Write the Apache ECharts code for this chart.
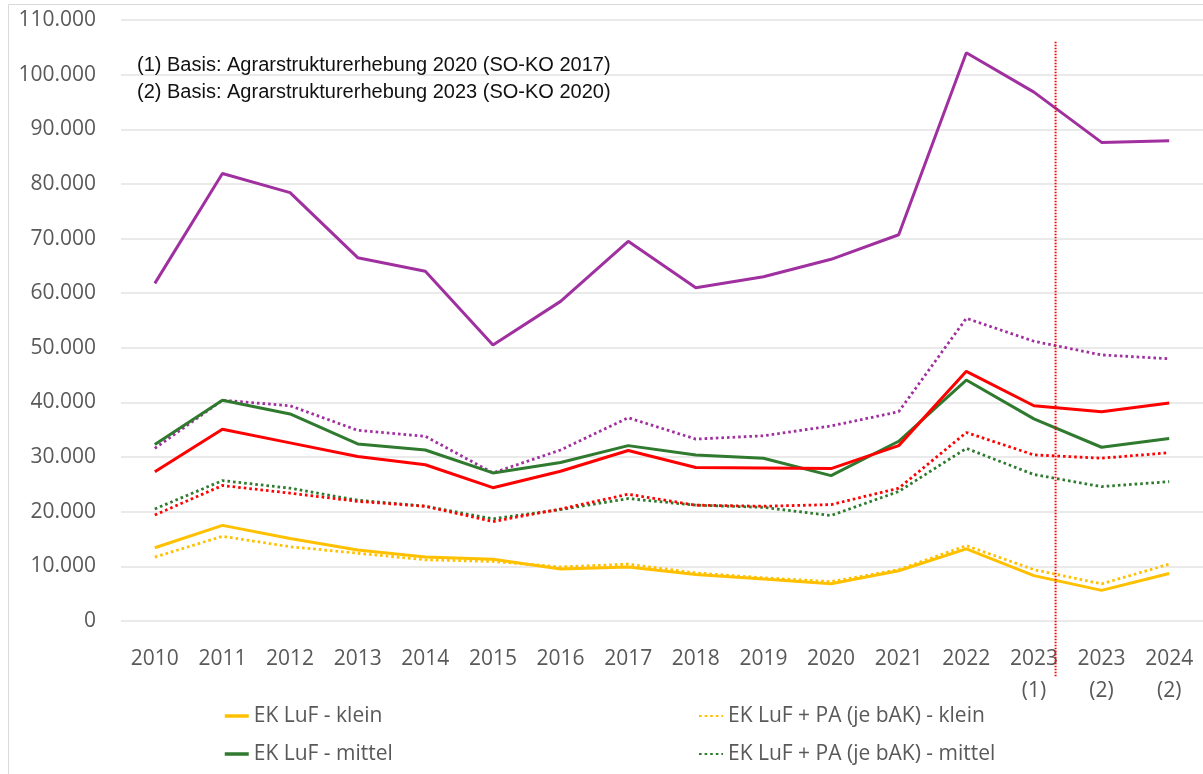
<!DOCTYPE html>
<html>
<head>
<meta charset="UTF-8">
<title>EK LuF</title>
<script src="https://cdn.jsdelivr.net/npm/echarts@6/dist/echarts.min.js"></script>
<style>
  html, body { margin: 0; padding: 0; background: #fff; }
  #chart { width: 1203px; height: 774px; }
</style>
</head>
<body>
<div id="chart"></div>
<script type="text/javascript">

  // Kategorien (x-Achse)
  var years = ['2010', '2011', '2012', '2013', '2014', '2015', '2016', '2017', '2018', '2019',
               '2020', '2021', '2022', '2023\n(1)', '2023\n(2)', '2024\n(2)'];

  // Werte (aus dem Bild geschätzt)
  var kleinEK     = [13400, 17500, 15100, 13000, 11700, 11300, 9500, 9900, 8500, 7700, 6800, 9200, 13200, 8300, 5600, 8700];
  var kleinPA     = [11700, 15500, 13600, 12400, 11200, 10900, 9900, 10400, 8800, 7900, 7200, 9400, 13800, 9400, 6800, 10400];
  var mittelEK    = [32300, 40400, 37900, 32400, 31300, 27100, 29000, 32100, 30400, 29800, 26600, 32900, 44100, 37000, 31800, 33400];
  var mittelPA    = [20500, 25700, 24300, 22100, 21000, 18700, 20400, 22400, 21200, 20800, 19300, 23700, 31600, 26800, 24600, 25500];
  var grossEK     = [27300, 35100, 32600, 30100, 28600, 24400, 27400, 31200, 28100, 28000, 27900, 32100, 45700, 39400, 38300, 39900];
  var grossPA     = [19400, 24800, 23400, 21900, 21000, 18200, 20500, 23200, 21200, 21000, 21300, 24300, 34500, 30400, 29800, 30800];
  var spezEK      = [61800, 81900, 78400, 66500, 64000, 50500, 58500, 69500, 61000, 63000, 66200, 70700, 104000, 96800, 87600, 87900];
  var spezPA      = [31600, 40400, 39400, 34900, 33800, 27100, 31300, 37200, 33300, 33900, 35700, 38300, 55400, 51200, 48700, 48000];

  var notes = ['(1) Basis: Agrarstrukturerhebung 2020 (SO-KO 2017)',
               '(2) Basis: Agrarstrukturerhebung 2023 (SO-KO 2020)'];

  var gray = '#595959';
  var dots = [2.6, 3];

  function solid(name, data, color) {
    return { name: name, type: 'line', data: data, symbol: 'none', z: 3,
             lineStyle: { color: color, width: 3 }, itemStyle: { color: color } };
  }
  function dotted(name, data, color) {
    return { name: name, type: 'line', data: data, symbol: 'none', z: 2,
             lineStyle: { color: color, width: 2.8, type: dots }, itemStyle: { color: color } };
  }

  var myChart = echarts.init(document.getElementById('chart'));

  var legendText = { color: gray, fontSize: 21, fontFamily: 'Open Sans', lineHeight: 24 };

  var option = {
    animation: false,
    backgroundColor: '#fff',
    grid: { left: 121, right: -6, top: 20, bottom: 153 },
    legend: [
      { orient: 'vertical', left: 218, top: 699, itemWidth: 24, itemHeight: 12, itemGap: 14,
        itemStyle: { opacity: 0 }, lineStyle: { width: 3.5 },
        textStyle: legendText, data: ['EK LuF - klein', 'EK LuF - mittel'] },
      { orient: 'vertical', left: 693, top: 699, itemWidth: 24, itemHeight: 12, itemGap: 14,
        itemStyle: { opacity: 0 },
        textStyle: legendText, data: ['EK LuF + PA (je bAK) - klein', 'EK LuF + PA (je bAK) - mittel'] }
    ],
    xAxis: {
      type: 'category',
      data: years,
      axisLine: { show: false },
      axisTick: { show: false },
      axisLabel: { color: gray, fontSize: 21, fontFamily: 'Open Sans', lineHeight: 32, margin: 22, interval: 0 }
    },
    yAxis: {
      type: 'value',
      min: 0, max: 110000, interval: 10000,
      axisLine: { show: false },
      axisTick: { show: false },
      splitLine: { lineStyle: { color: '#e3e3e3', width: 1.5 } },
      axisLabel: {
        color: gray, fontSize: 21, fontFamily: 'Open Sans', margin: 25,
        formatter: function (v) { return v === 0 ? '0' : (v / 1000) + '.000'; }
      }
    },
    series: [
      dotted('EK LuF + PA (je bAK) - klein', kleinPA, '#FFC000'),
      dotted('EK LuF + PA (je bAK) - mittel', mittelPA, '#2F7A2F'),
      dotted('EK LuF + PA (je bAK) - groß', grossPA, '#FF0000'),
      dotted('EK LuF + PA (je bAK) - spezialisiert', spezPA, '#A0309F'),
      solid('EK LuF - klein', kleinEK, '#FFC000'),
      solid('EK LuF - mittel', mittelEK, '#2F7A2F'),
      solid('EK LuF - groß', grossEK, '#FF0000'),
      solid('EK LuF - spezialisiert', spezEK, '#A0309F')
    ]
  };

  myChart.setOption(option);

  // Trennlinie zwischen 2023 (1) und 2023 (2), Fußnoten, Rahmen
  var p1 = myChart.convertToPixel({ xAxisIndex: 0 }, years[13]);
  var p2 = myChart.convertToPixel({ xAxisIndex: 0 }, years[14]);
  var lx = p1 + (p2 - p1) * 0.32;
  var yTop = myChart.convertToPixel({ yAxisIndex: 0 }, 106000);
  var yBot = myChart.convertToPixel({ yAxisIndex: 0 }, 0) + 56;

  myChart.setOption({
    graphic: [
      { type: 'rect', shape: { x: 8.5, y: 4.5, width: 1210, height: 800 }, silent: true,
        style: { fill: 'none', stroke: '#d9d9d9', lineWidth: 1 } },
      { type: 'line', shape: { x1: lx, y1: yTop, x2: lx, y2: yBot }, z: 10, silent: true,
        style: { stroke: '#FF0000', lineWidth: 2, lineDash: [1.5, 1.5] } },
      { type: 'text', left: 137, top: 52, silent: true,
        style: { text: notes.join('\n'), fill: '#111', fontSize: 20, lineHeight: 27,
                 fontFamily: 'Liberation Sans Narrow, Liberation Sans' } }
    ]
  });

</script>
</body>
</html>
